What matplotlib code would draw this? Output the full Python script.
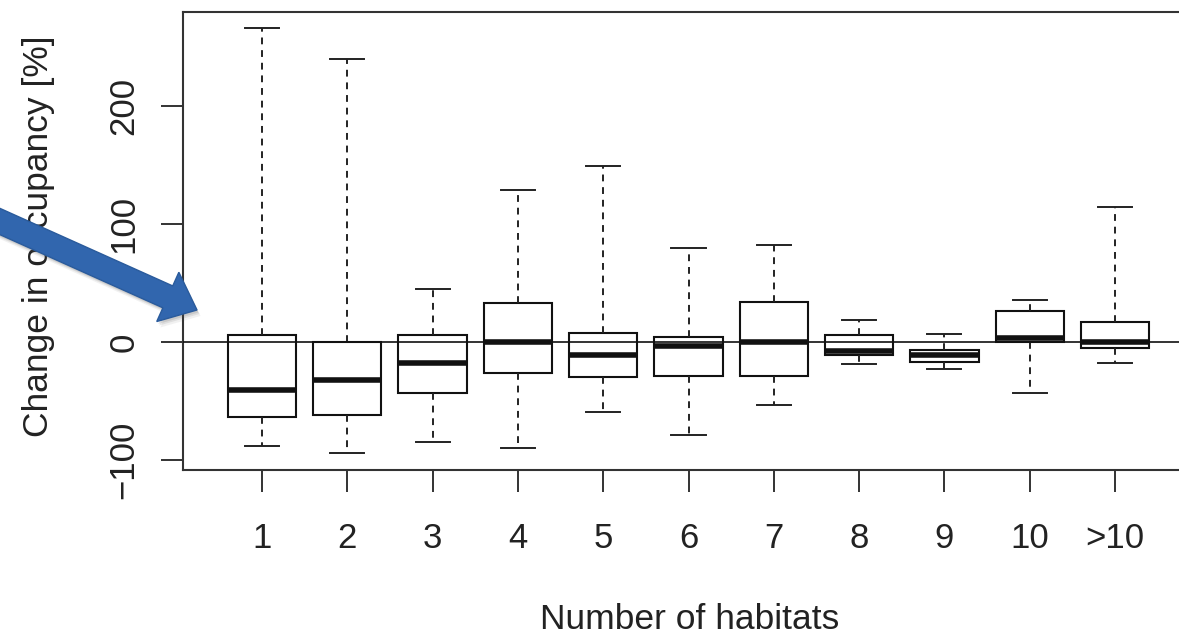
import matplotlib
matplotlib.use("Agg")
import matplotlib.pyplot as plt
from matplotlib.patches import Polygon
import numpy as np

# values (change in occupancy, %)
habitats = ["1", "2", "3", "4", "5", "6", "7", "8", "9", "10", ">10"]
whis_hi = [266, 240, 45, 129, 149, 80, 82, 19, 7, 36, 114]
q3 = [6, 0, 6, 33, 8, 4, 34, 6, -7, 26, 17]
median = [-41, -32, -18, 0, -11, -3, 0, -8, -11, 3, 0]
q1 = [-64, -62, -43, -26, -30, -29, -29, -11, -17, 0, -5]
whis_lo = [-88, -94, -85, -90, -59, -79, -53, -19, -23, -43, -18]
yticks = [-100, 0, 100, 200]

plt.rcParams['font.family'] = ['Liberation Sans', 'DejaVu Sans']

W, H = 1179, 637
fig = plt.figure(figsize=(W / 100, H / 100), dpi=100)
fig.patch.set_facecolor("white")

# plot region in pixels (left, right, top, bottom); right edge runs off the picture
L, R, T, B = 183, 1194, 12, 470
ax = fig.add_axes([L / W, (H - B) / H, (R - L) / W, (B - T) / H])

stats = []
for i in range(len(habitats)):
    stats.append(dict(label=habitats[i], med=median[i], q1=q1[i], q3=q3[i],
                      whislo=whis_lo[i], whishi=whis_hi[i], fliers=[]))

pos = np.arange(1, len(habitats) + 1)
ax.bxp(stats, positions=pos, widths=0.8, capwidths=0.4, patch_artist=True,
       boxprops=dict(facecolor="white", edgecolor="#111111", linewidth=1.5),
       medianprops=dict(color="#111111", linewidth=4.0, solid_capstyle="butt"),
       whiskerprops=dict(color="#222222", linewidth=1.4, linestyle=(0, (3.5, 3))),
       capprops=dict(color="#222222", linewidth=1.4),
       showfliers=False, manage_ticks=False)

ax.axhline(0, color="#111111", linewidth=1.2, zorder=4)

ax.set_xlim(0.074, 11.926)
ax.set_ylim(-108.5, 279.7)
ax.set_xticks(pos)
ax.set_xticklabels(habitats)
ax.set_yticks(yticks)
ax.set_yticklabels([str(v).replace("-", "\u2212") for v in yticks],
                   rotation=90, va="center")

for s in ["left", "top", "bottom", "right"]:
    ax.spines[s].set_linewidth(1.5)
    ax.spines[s].set_color("#333333")

ax.tick_params(axis="both", length=15.5, width=1.4, color="#333333",
               labelsize=25, labelcolor="#222222")
ax.tick_params(axis="x", pad=22)
ax.tick_params(axis="y", pad=15)

ax.set_xlabel("Number of habitats", fontsize=25.5, color="#222222")
ax.set_ylabel("Change in occupancy [%]", fontsize=25.5, color="#222222")
ax.xaxis.set_label_coords(0.5015, -0.3275)
ax.xaxis.label.set_va("center")
ax.yaxis.set_label_coords(-0.1434, 0.51)
ax.yaxis.label.set_va("center")

# blue arrow overlay drawn in pixel space on top of everything
ov = fig.add_axes([0, 0, 1, 1], zorder=10)
ov.set_xlim(0, W)
ov.set_ylim(H, 0)
ov.axis("off")
ov.patch.set_alpha(0)

tip = np.array([197.0, 310.0])
d = np.array([24.5, 11.0])
d = d / np.linalg.norm(d)
n = np.array([-d[1], d[0]])
head_len, head_hw, shaft_hw, shaft_len = 32, 27, 12, 260
base = tip - head_len * d
tail = base - shaft_len * d
pts = [tail + shaft_hw * n, base + shaft_hw * n, base + head_hw * n, tip,
       base - head_hw * n, base - shaft_hw * n, tail - shaft_hw * n]
pts = np.array(pts)

for k, a in [(6, 0.08), (4, 0.12), (2.5, 0.15)]:
    ov.add_patch(Polygon(pts + np.array([k * 0.6, k]), closed=True,
                         facecolor="#555555", edgecolor="none", alpha=a))
ov.add_patch(Polygon(pts, closed=True, facecolor="#3166ae",
                     edgecolor="#2a5b9c", linewidth=1.0))

fig.savefig("out.png", dpi=100)
